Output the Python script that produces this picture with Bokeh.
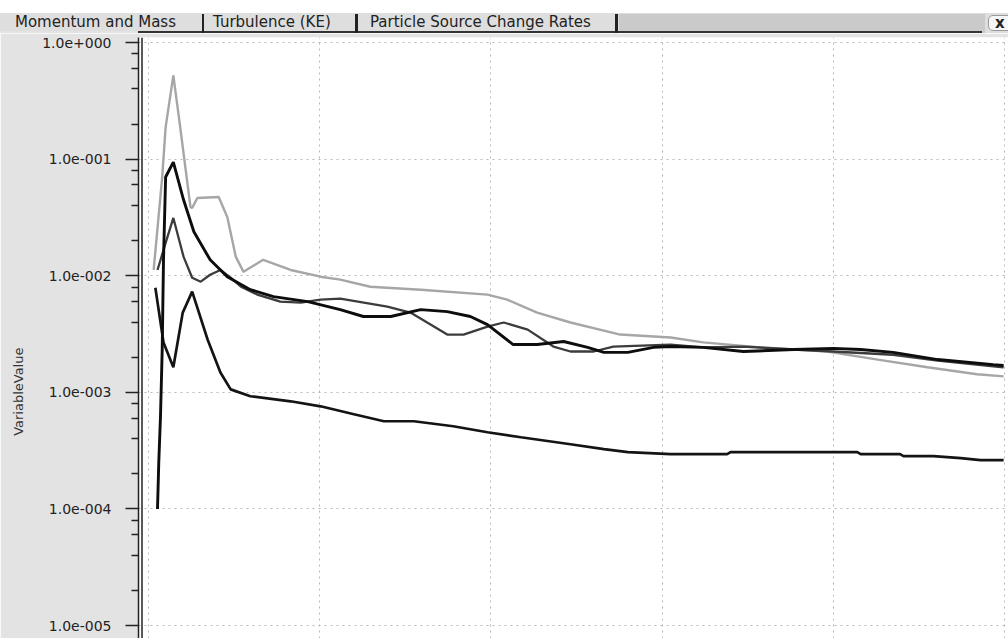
from bokeh.plotting import figure
from bokeh.layouts import column
from bokeh.models import Range1d, FixedTicker, CustomJSTickFormatter, Span, Div
from bokeh.embed import file_html
from bokeh.resources import INLINE

# ---------------- data ----------------
# light grey curve
x_a = [0.6, 1.6, 2.0, 2.9, 3.7, 4.9, 5.1, 5.7, 8.2, 9.2, 10.2, 11.1, 13.4, 16.6, 20.1, 22.4,
       25.9, 31.8, 39.6, 41.9, 45.4, 49.3, 55.1, 61.0, 64.8, 71.5, 79.3, 85.2, 91.0, 96.8, 99.9]
y_a = [0.0112, 0.0702, 0.188, 0.522, 0.188, 0.0389, 0.0381, 0.0464, 0.0473, 0.0319, 0.0145,
       0.0108, 0.0137, 0.0112, 0.00981, 0.00925, 0.00805, 0.00759, 0.00689, 0.00624, 0.00483,
       0.00397, 0.00313, 0.00295, 0.00268, 0.00243, 0.00224, 0.00191, 0.00164, 0.00143, 0.00137]

# thick black curve (peak ~0.1)
x_b = [1.05, 1.2, 1.4, 1.6, 1.75, 2.0, 2.9, 4.1, 5.3, 7.2, 9.2, 11.9, 14.6, 18.6, 22.4, 25.1,
       28.3, 31.8, 34.9, 37.6, 39.6, 42.6, 45.4, 48.5, 51.3, 53.2, 56.0, 59.0, 61.0, 64.8,
       69.5, 75.4, 80.0, 83.2, 87.0, 92.2, 98.7, 99.9]
y_b = [0.0001, 0.000252, 0.000624, 0.00233, 0.0137, 0.0702, 0.0942, 0.0446, 0.0238, 0.0137,
       0.00981, 0.00759, 0.00662, 0.00600, 0.00512, 0.00447, 0.00447, 0.00512, 0.00492,
       0.00447, 0.00381, 0.00257, 0.00257, 0.00273, 0.00243, 0.00220, 0.00220, 0.00243,
       0.00247, 0.00243, 0.00224, 0.00233, 0.00238, 0.00233, 0.00220, 0.00191, 0.00173, 0.00170]

# dark grey curve (peak ~0.03)
x_c = [1.05, 2.0, 2.9, 4.1, 5.1, 6.1, 7.2, 8.4, 9.6, 10.8, 12.7, 15.4, 17.8, 20.1, 22.4, 27.9,
       30.6, 34.9, 36.8, 39.6, 41.5, 44.3, 47.3, 49.3, 52.0, 54.3, 61.0, 64.8, 69.5, 75.4,
       80.0, 87.0, 92.2, 98.7, 99.9]
y_c = [0.0112, 0.0191, 0.0313, 0.0145, 0.00961, 0.00889, 0.0102, 0.0112, 0.00961, 0.00805,
       0.00689, 0.00600, 0.00588, 0.00624, 0.00636, 0.00543, 0.00483, 0.00313, 0.00313,
       0.00366, 0.00397, 0.00345, 0.00247, 0.00224, 0.00224, 0.00247, 0.00257, 0.00243,
       0.00247, 0.00233, 0.00224, 0.00210, 0.00187, 0.00167, 0.00164]

# lowest black curve
x_d = [0.8, 1.75, 2.9, 4.0, 5.1, 6.9, 8.4, 9.6, 11.9, 16.6, 20.1, 24.0, 27.5, 31.0, 35.6, 39.6,
       43.5, 49.3, 53.2, 56.0, 61.0, 67.6, 68.0, 82.8, 83.2, 87.8, 88.2, 91.7, 94.9, 97.2, 99.9]
y_d = [0.00789, 0.00268, 0.00164, 0.00483, 0.00730, 0.00284, 0.00148, 0.00106, 0.000925,
       0.000838, 0.000759, 0.000649, 0.000565, 0.000565, 0.000512, 0.000455, 0.000412,
       0.000359, 0.000326, 0.000307, 0.000295, 0.000295, 0.000307, 0.000307, 0.000295,
       0.000295, 0.000284, 0.000284, 0.000273, 0.000262, 0.000262]

y_ticks = [1.0, 0.1, 0.01, 0.001, 0.0001, 0.00001]
y_tick_labels = ["1.0e+000", "1.0e-001", "1.0e-002", "1.0e-003", "1.0e-004", "1.0e-005"]
y_minor_mantissas = [2, 4, 6, 8]
x_grid = [0, 20, 40, 60, 80, 100]
tab_names = ["Momentum and Mass", "Turbulence (KE)", "Particle Source Change Rates"]
y_title = "VariableValue"

# ---------------- layout constants ----------------
W, H = 1008, 638
TAB_H = 33
MAIN_H = H - TAB_H
FRAME_LEFT = 138
x_lo, x_hi = -1.17, 100.47
y_lo, y_hi = 10 ** -5.111, 10 ** 0.0429
LEFT_BG = "#e3e3e3"

# ---------------- tab strip (HTML) ----------------
tab_left = [15, 213, 370]
sep_left = [202, 355, 615]
sep_w = [2, 3, 3]
parts = [
    f'<div style="position:relative;width:{W}px;height:{TAB_H}px;background:white;overflow:hidden;'
    'font-family:\'DejaVu Sans\';font-size:15px;color:#222;">',
    '<div style="position:absolute;left:0;top:13px;width:1008px;height:22px;background:#dedede"></div>',
    '<div style="position:absolute;left:619px;top:14px;width:366px;height:21px;background:#cacaca"></div>',
    f'<div style="position:absolute;left:0;top:31px;width:{FRAME_LEFT}px;height:2px;background:{LEFT_BG}"></div>',
    f'<div style="position:absolute;left:{FRAME_LEFT}px;top:31px;width:844px;height:2px;background:#333"></div>',
]
for sl, sw in zip(sep_left, sep_w):
    parts.append(f'<div style="position:absolute;left:{sl}px;top:14px;width:{sw}px;height:19px;background:#222"></div>')
for tl, name in zip(tab_left, tab_names):
    parts.append(f'<span style="position:absolute;left:{tl}px;top:11px;line-height:22px;white-space:nowrap">{name}</span>')
parts.append('<div style="position:absolute;left:988px;top:15px;width:26px;height:16px;background:#f6f6f6;'
             'border:1px solid #999;border-radius:5px;"></div>')
parts.append('<span style="position:absolute;left:995px;top:12px;line-height:22px;font-weight:bold">x</span>')
parts.append('</div>')
tabs = Div(text="".join(parts), width=W, height=TAB_H, margin=0)

# ---------------- main plot ----------------
p = figure(width=W, height=MAIN_H, x_range=Range1d(x_lo, x_hi), y_range=Range1d(y_lo, y_hi),
           y_axis_type="log", x_axis_location=None, output_backend="svg",
           toolbar_location=None, min_border_left=FRAME_LEFT, min_border_right=0,
           min_border_top=4, min_border_bottom=0)
p.outline_line_color = None
p.background_fill_color = "white"
p.border_fill_color = LEFT_BG

minor = [m * t for t in y_ticks[1:] for m in y_minor_mantissas]
p.yaxis.ticker = FixedTicker(ticks=y_ticks, minor_ticks=minor)
p.yaxis.formatter = CustomJSTickFormatter(args=dict(tvals=y_ticks, tlabels=y_tick_labels), code="""
let best = 0, bd = Infinity;
for (let i = 0; i < tvals.length; i++) {
  const d = Math.abs(Math.log10(tick) - Math.log10(tvals[i]));
  if (d < bd) { bd = d; best = i; }
}
return tlabels[best];
""")
p.yaxis.axis_line_color = "#222222"
p.yaxis.axis_line_width = 1.5
p.yaxis.major_tick_line_color = "#222222"
p.yaxis.major_tick_line_width = 1.5
p.yaxis.major_tick_out = 13
p.yaxis.major_tick_in = 0
p.yaxis.minor_tick_line_color = "#222222"
p.yaxis.minor_tick_line_width = 1.5
p.yaxis.minor_tick_out = 7
p.yaxis.minor_tick_in = 0
p.yaxis.major_label_text_font = "DejaVu Sans"
p.yaxis.major_label_text_font_size = "14px"
p.yaxis.major_label_text_color = "#222222"
p.yaxis.major_label_standoff = 14
# axis title, pushed down to where the reference shows it
p.yaxis.axis_label = y_title + "\u00a0" * 26
p.yaxis.axis_label_text_font = "DejaVu Sans"
p.yaxis.axis_label_text_font_size = "13px"
p.yaxis.axis_label_text_font_style = "normal"
p.yaxis.axis_label_text_color = "#333333"
p.yaxis.axis_label_standoff = 13

p.xgrid.ticker = FixedTicker(ticks=x_grid)
p.ygrid.ticker = FixedTicker(ticks=y_ticks)
for g in (p.xgrid, p.ygrid):
    g.grid_line_color = "#b8b8b8"
    g.grid_line_dash = "2 4"
    g.grid_line_width = 1

# second (inner) axis rule
px_per_unit = (W - FRAME_LEFT) / (x_hi - x_lo)
p.add_layout(Span(location=x_lo + 3.5 / px_per_unit, dimension="height",
                  line_color="#222222", line_width=1.5))

p.line(x_a, y_a, line_color="#a6a6a6", line_width=2.4)
p.line(x_c, y_c, line_color="#3c3c3c", line_width=2.3)
p.line(x_d, y_d, line_color="#141414", line_width=2.7)
p.line(x_b, y_b, line_color="#0d0d0d", line_width=2.9)

layout = column(tabs, p, spacing=0)
open("out.html", "w").write(file_html(layout, INLINE))
